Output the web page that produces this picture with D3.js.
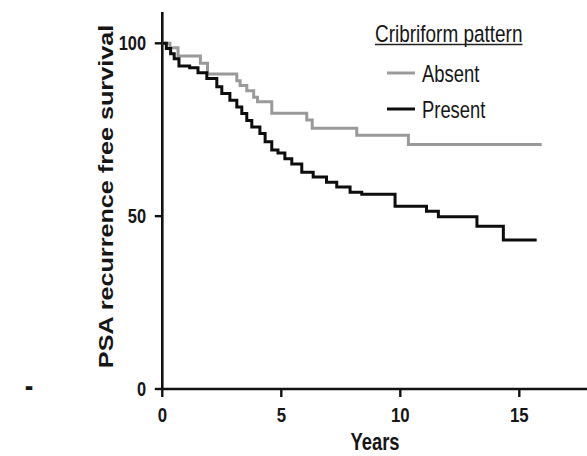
<!DOCTYPE html>
<html>
<head>
<meta charset="utf-8">
<script src="https://cdn.jsdelivr.net/npm/d3@7"></script>
<style>
  html, body { margin: 0; padding: 0; background: #fff; }
  svg { display: block; }
  text { font-family: "Liberation Sans", Arial, sans-serif; fill: #161616; }
</style>
</head>
<body>
<svg id="chart" width="587" height="456"></svg>
<script>
// Kaplan-Meier step points: time (years) at which survival drops, and survival (%) after the drop
const absentTimes    = [0, 0.32, 0.66, 1.6, 1.9, 3.13, 3.27, 3.55, 3.84, 4.0, 4.6, 6.07, 6.3, 8.17, 10.34];
const absentSurvival = [100, 98.7, 96.3, 94.2, 91.1, 89.2, 87.8, 86.3, 84.4, 83.1, 79.8, 77.8, 75.4, 73.4, 70.7];
const absentEnd = 15.94;

const presentTimes    = [0, 0.17, 0.35, 0.5, 0.7, 1.15, 1.5, 1.87, 2.29, 2.5, 2.84, 3.13, 3.34, 3.55, 3.76, 4.1, 4.32, 4.6, 4.86, 5.15, 5.44, 5.86, 6.34, 6.9, 7.33, 7.89, 8.38, 9.78, 11.1, 11.6, 13.22, 14.33];
const presentSurvival = [100, 98.5, 97, 95.5, 93.4, 92.9, 91.5, 89.8, 87.4, 85.5, 83.5, 81.6, 79.7, 77.7, 75.8, 73.9, 71.5, 69.1, 68.3, 66.6, 65.1, 62.7, 61.3, 59.8, 58.4, 56.9, 56.3, 52.9, 51.4, 49.8, 47.1, 43.1];
const presentEnd = 15.73;

const xTicks = [0, 5, 10, 15];
const yTicks = [0, 50, 100];
const seriesNames = ["Absent", "Present"];
const seriesColors = ["#9a9a9a", "#0d0d0d"];
const legendTitle = "Cribriform pattern";
const xTitle = "Years";
const yTitle = "PSA recurrence free survival";

const svg = d3.select("#chart");
const squeeze = 0.8; // condensed lettering

const x = d3.scaleLinear().domain([0, 18]).range([162.3, 590.7]);
const y = d3.scaleLinear().domain([0, 100]).range([389, 43.3]);

function toPoints(times, surv, end) {
  const pts = times.map((t, i) => [t, surv[i]]);
  pts.push([end, surv[surv.length - 1]]);
  return pts;
}

const line = d3.line()
  .x(d => x(d[0]))
  .y(d => y(d[1]))
  .curve(d3.curveStepAfter);

// axes
const axisColor = "#111";
svg.append("line")
  .attr("x1", x(0)).attr("x2", x(0))
  .attr("y1", 12).attr("y2", y(0) + 1)
  .attr("stroke", axisColor).attr("stroke-width", 2.6);
svg.append("line")
  .attr("x1", x(0) - 1).attr("x2", 587)
  .attr("y1", y(0)).attr("y2", y(0))
  .attr("stroke", axisColor).attr("stroke-width", 2.6);

// y ticks and labels
yTicks.forEach(v => {
  svg.append("line")
    .attr("x1", x(0) - 7.5).attr("x2", x(0))
    .attr("y1", y(v)).attr("y2", y(v))
    .attr("stroke", axisColor).attr("stroke-width", 2.4);
  svg.append("text")
    .attr("transform", `translate(146,${y(v) + 7}) scale(${squeeze},1)`)
    .attr("text-anchor", "end")
    .attr("font-weight", "bold")
    .attr("font-size", 20.5)
    .text(v);
});

// x ticks and labels
xTicks.forEach(v => {
  svg.append("line")
    .attr("x1", x(v)).attr("x2", x(v))
    .attr("y1", y(0)).attr("y2", y(0) + 8)
    .attr("stroke", axisColor).attr("stroke-width", 2.4);
  svg.append("text")
    .attr("transform", `translate(${x(v)},421.5) scale(${squeeze},1)`)
    .attr("text-anchor", "middle")
    .attr("font-weight", "bold")
    .attr("font-size", 21)
    .text(v);
});

// axis titles
svg.append("text")
  .attr("transform", `translate(375,450) scale(${squeeze},1)`)
  .attr("text-anchor", "middle")
  .attr("font-weight", "bold")
  .attr("font-size", 23)
  .text(xTitle);

svg.append("text")
  .attr("transform", `translate(112.5,196.5) rotate(-90) scale(1,${squeeze})`)
  .attr("text-anchor", "middle")
  .attr("font-weight", "bold")
  .attr("font-size", 25.2)
  .text(yTitle);

// stray mark at the left margin
svg.append("text")
  .attr("transform", `translate(29,396) scale(${squeeze},1)`)
  .attr("text-anchor", "middle")
  .attr("font-weight", "bold")
  .attr("font-size", 32)
  .text("-");

// survival curves
const series = [
  toPoints(absentTimes, absentSurvival, absentEnd),
  toPoints(presentTimes, presentSurvival, presentEnd)
];
series.forEach((pts, i) => {
  svg.append("path")
    .datum(pts)
    .attr("d", line)
    .attr("fill", "none")
    .attr("stroke", seriesColors[i])
    .attr("stroke-width", 3);
});

// legend
const titleText = svg.append("text")
  .attr("transform", `translate(375,41.5) scale(${squeeze},1)`)
  .attr("font-size", 23.7)
  .text(legendTitle);
const tw = titleText.node().getComputedTextLength() * squeeze;
svg.append("line")
  .attr("x1", 375).attr("x2", 375 + tw)
  .attr("y1", 44.5).attr("y2", 44.5)
  .attr("stroke", "#222").attr("stroke-width", 1.4);

const legendY = [73, 109];
seriesNames.forEach((name, i) => {
  svg.append("line")
    .attr("x1", 387).attr("x2", 415)
    .attr("y1", legendY[i]).attr("y2", legendY[i])
    .attr("stroke", seriesColors[i]).attr("stroke-width", 3);
  svg.append("text")
    .attr("transform", `translate(422,${legendY[i] + 8.5}) scale(${squeeze},1)`)
    .attr("font-size", 23)
    .text(name);
});
</script>
</body>
</html>
